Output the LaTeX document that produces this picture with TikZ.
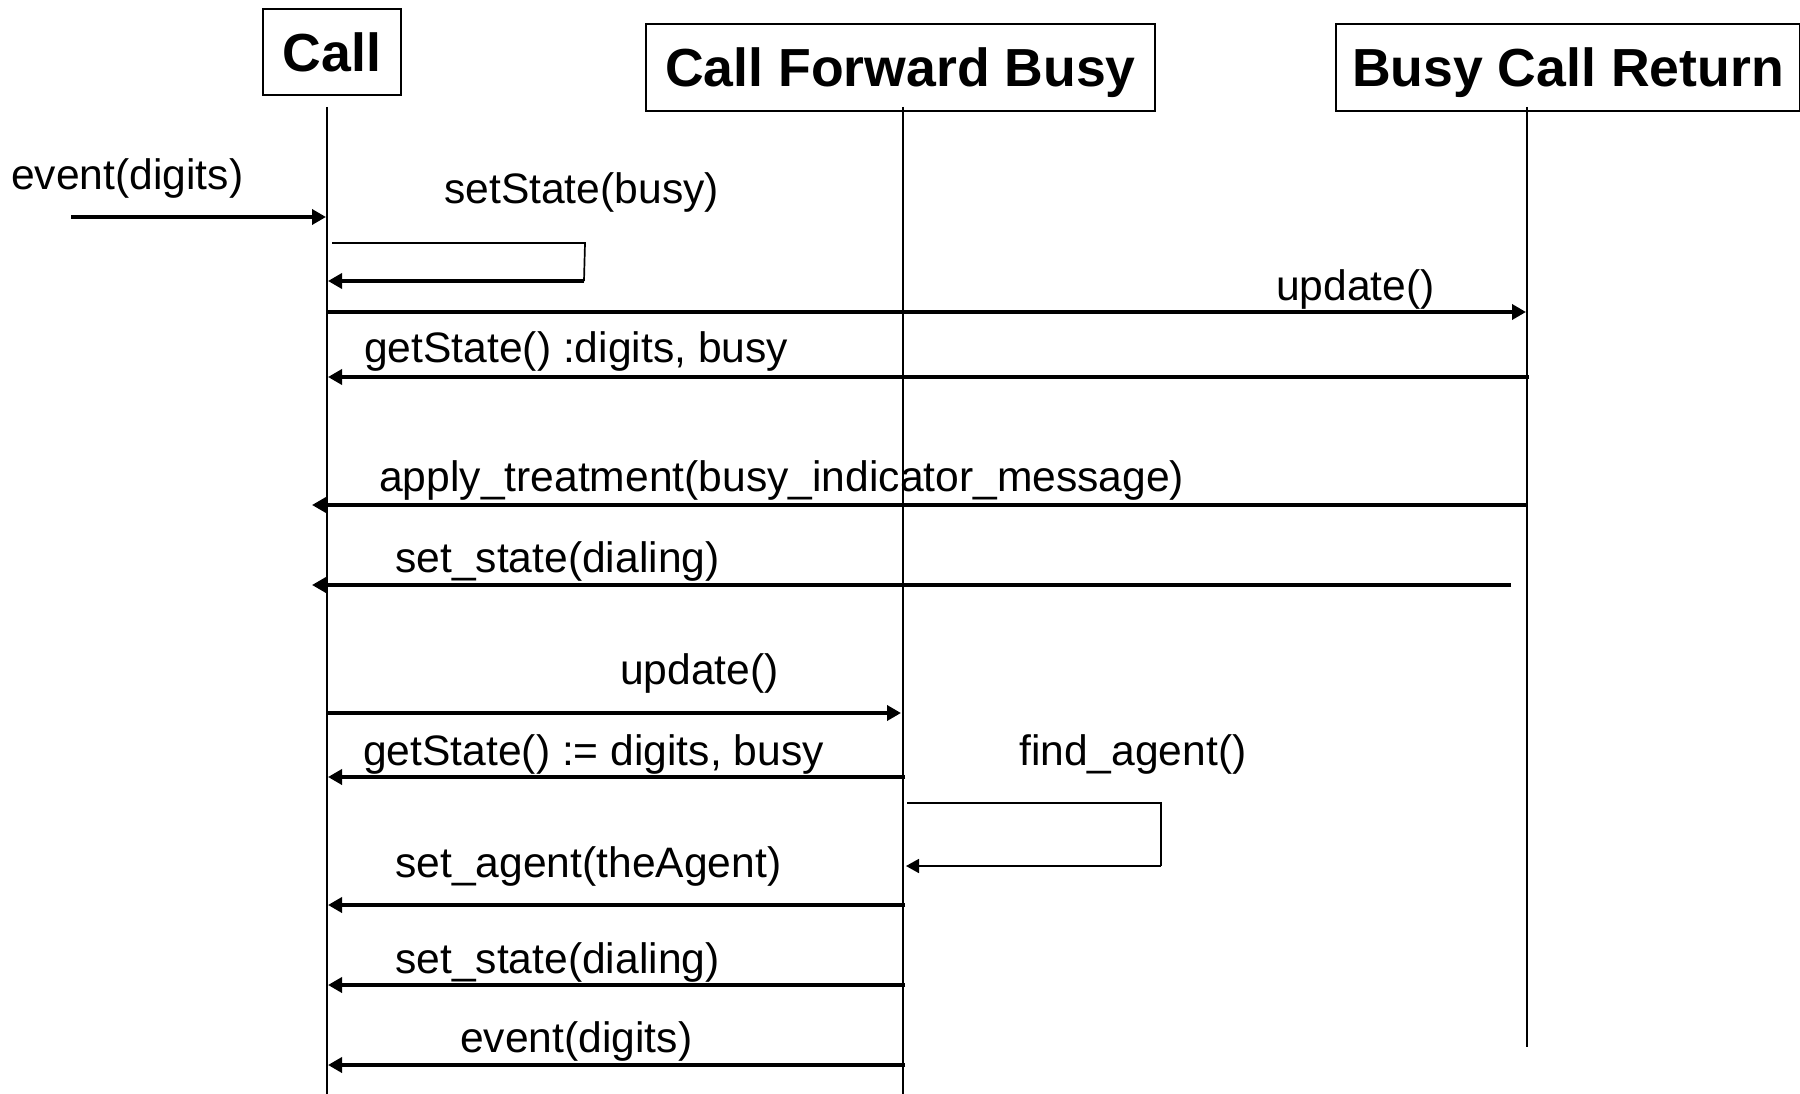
\documentclass[tikz,border=0pt]{standalone}
\usepackage{fontspec}
\setmainfont{Liberation Sans}
\usetikzlibrary{arrows.meta}
\begin{document}
\begin{tikzpicture}[x=1pt,y=-1pt,
  every node/.style={inner sep=0pt},
  head/.style={draw,line width=1.8pt,font=\fontsize{53.6}{60}\selectfont\bfseries,text depth=0pt,align=center},
  lbl/.style={anchor=base west,font=\fontsize{42.6}{50}\selectfont},
  life/.style={line width=1.7pt},
  msg/.style={line width=3.6pt,-{Triangle[length=14pt,width=15pt]}},
  thin msg/.style={line width=1.7pt,-{Triangle[length=13pt,width=14pt]}},
  loopline/.style={line width=1.7pt}]
\useasboundingbox (0,0) rectangle (1800,1094);

% object boxes
\node[head,minimum width=138pt,minimum height=86pt] (call) at (332,52) {Call};
\node[head,minimum width=509pt,minimum height=87pt] (cfb) at (900.5,67.5) {Call Forward Busy};
\node[head,minimum width=464pt,minimum height=87pt] (bcr) at (1568,67.5) {Busy Call Return};

% lifelines
\coordinate (callTop) at (327,107);  \coordinate (callBot) at (327,1094);
\coordinate (cfbTop) at (903,107);   \coordinate (cfbBot) at (903,1094);
\coordinate (bcrTop) at (1527,107);  \coordinate (bcrBot) at (1527,1047);
\draw[life] (callTop) -- (callBot);
\draw[life] (cfbTop) -- (cfbBot);
\draw[life] (bcrTop) -- (bcrBot);

% incoming event
\coordinate (ev0) at (71,217); \coordinate (ev1) at (326,217);
\node[lbl] (tEv) at (11,190) {event(digits)};
\draw[msg] (ev0) -- (ev1);

% setState(busy) self call
\node[lbl] (tSet) at (444,204) {setState(busy)};
\coordinate (s1a) at (332,243); \coordinate (s1b) at (585,243);
\coordinate (s1c) at (584,281); \coordinate (s1d) at (328,281);
\draw[loopline] (s1a) -- (s1b) -- (s1c);
\draw[msg] (s1c) -- (s1d);

% update() to Busy Call Return
\node[lbl] (tUp1) at (1276,300) {update()};
\coordinate (u1a) at (327,312); \coordinate (u1b) at (1526,312);
\draw[msg] (u1a) -- (u1b);

% getState() reply
\node[lbl] (tGet1) at (364,362) {getState() :digits, busy};
\coordinate (g1a) at (1529,377); \coordinate (g1b) at (328,377);
\draw[msg] (g1a) -- (g1b);

% apply_treatment
\node[lbl] (tApp) at (379,491) {apply\_treatment(busy\_indicator\_message)};
\coordinate (a1a) at (1527,505); \coordinate (a1b) at (312,505);
\draw[msg] (a1a) -- (a1b);

% set_state(dialing) from Busy Call Return
\node[lbl] (tSs1) at (395,572) {set\_state(dialing)};
\coordinate (ss1a) at (1511,585); \coordinate (ss1b) at (312,585);
\draw[msg] (ss1a) -- (ss1b);

% update() to Call Forward Busy
\node[lbl] (tUp2) at (620,684) {update()};
\coordinate (u2a) at (327,713); \coordinate (u2b) at (901,713);
\draw[msg] (u2a) -- (u2b);

% getState() reply
\node[lbl] (tGet2) at (363,765) {getState() := digits, busy};
\coordinate (g2a) at (905,777); \coordinate (g2b) at (328,777);
\draw[msg] (g2a) -- (g2b);

% find_agent() self call
\node[lbl] (tFind) at (1019,765) {find\_agent()};
\coordinate (f1a) at (907,803); \coordinate (f1b) at (1161,803);
\coordinate (f1c) at (1161,866); \coordinate (f1d) at (906,866);
\draw[loopline] (f1a) -- (f1b) -- (f1c);
\draw[thin msg] (f1c) -- (f1d);

% set_agent(theAgent)
\node[lbl] (tAg) at (395,877) {set\_agent(theAgent)};
\coordinate (sa1) at (905,905); \coordinate (sa2) at (328,905);
\draw[msg] (sa1) -- (sa2);

% set_state(dialing) from Call Forward Busy
\node[lbl] (tSs2) at (395,973) {set\_state(dialing)};
\coordinate (ss2a) at (905,985); \coordinate (ss2b) at (328,985);
\draw[msg] (ss2a) -- (ss2b);

% event(digits) from Call Forward Busy
\node[lbl] (tEv2) at (460,1052) {event(digits)};
\coordinate (e2a) at (905,1065); \coordinate (e2b) at (328,1065);
\draw[msg] (e2a) -- (e2b);
\end{tikzpicture}
\end{document}
